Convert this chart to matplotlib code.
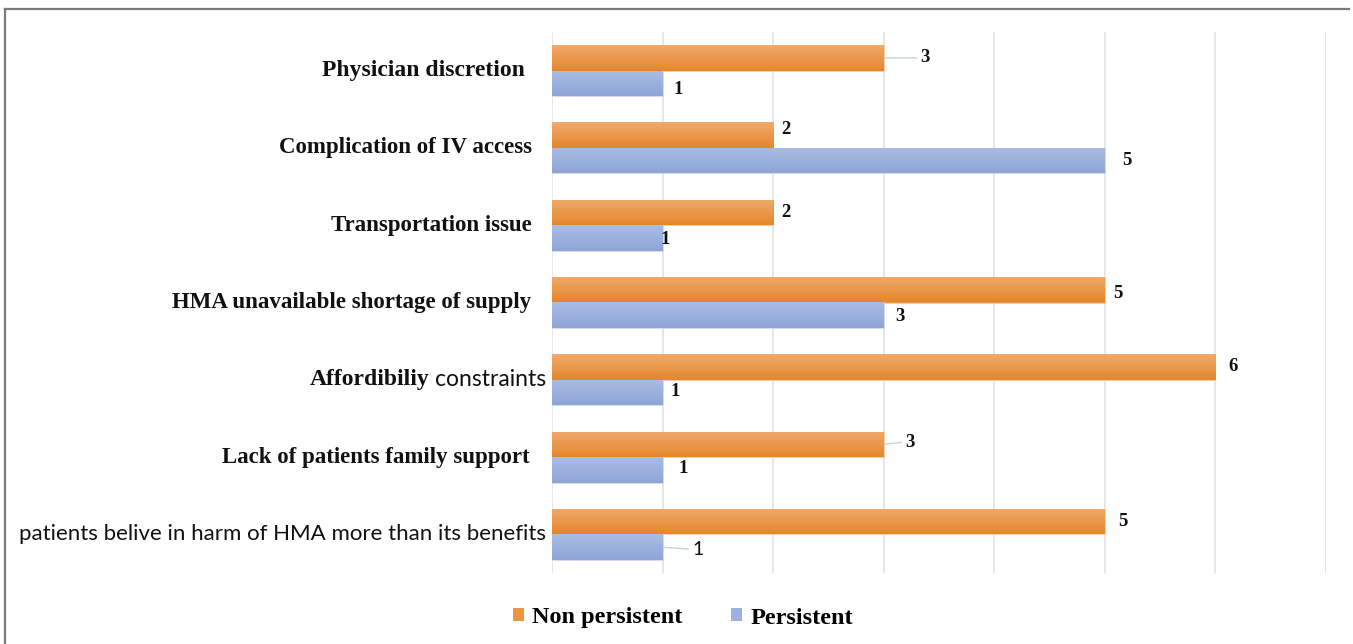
import matplotlib
matplotlib.use("Agg")
import matplotlib.pyplot as plt
import numpy as np
from matplotlib.colors import LinearSegmentedColormap
from matplotlib.lines import Line2D
from matplotlib.patches import Patch

# ---------------- data ----------------
categories = [
    "Physician discretion",
    "Complication of IV access",
    "Transportation issue",
    "HMA unavailable shortage of supply",
    "Affordibiliy constraints",
    "Lack of patients family support",
    "patients belive in harm of HMA more than its benefits",
]
non_persistent = [3, 2, 2, 5, 6, 3, 5]
persistent = [1, 5, 1, 3, 1, 1, 1]
series_names = ["Non persistent", "Persistent"]

# ---------------- style / layout ----------------
W, H = 1353, 644
fig = plt.figure(figsize=(W / 100, H / 100), dpi=100)
ax = fig.add_axes([552 / W, 1 - 573 / H, (1326 - 552) / W, (573 - 32) / H])

SERIF = "Liberation Serif"
SANS = "Lato"
orange_grad = LinearSegmentedColormap.from_list("o", ["#F0AA6C", "#E4872B"])
blue_grad = LinearSegmentedColormap.from_list("b", ["#AABDE4", "#8DA4D6"])

n = len(categories)
y = np.arange(n)
bh = 0.33

ax.set_xlim(0, 7)
ax.set_ylim(n - 0.5, -0.5)

bars_o = ax.barh(y - bh / 2, non_persistent, height=bh, color="#EC973F",
                 edgecolor="#F6D3B0", linewidth=0.6, zorder=2)
bars_b = ax.barh(y + bh / 2, persistent, height=bh, color="#9CB1DD",
                 edgecolor="#D6DEF1", linewidth=0.6, zorder=2)

grad = np.linspace(0, 1, 64).reshape(-1, 1)
for bars, cmap in ((bars_o, orange_grad), (bars_b, blue_grad)):
    for p in bars:
        x0, y0 = p.get_x(), p.get_y()
        w, h = p.get_width(), p.get_height()
        im = ax.imshow(grad, cmap=cmap, aspect="auto",
                       extent=(x0, x0 + w, y0 + h, y0), origin="upper",
                       zorder=2.5, interpolation="bilinear")
        im.set_clip_path(p)
ax.set_xlim(0, 7)
ax.set_ylim(n - 0.5, -0.5)

# grid
ax.set_xticks(range(0, 8))
ax.xaxis.grid(True, color="#E3E3E3", linewidth=1.2, zorder=0)
ax.set_axisbelow(True)
ax.tick_params(axis="both", length=0, labelbottom=False, labelleft=False)
for s in ax.spines.values():
    s.set_visible(False)

# category labels (drawn manually to mix fonts)
label_right_px = [525, 532, 532, 531, 546, 530, 546]
label_size = [17, 16.5, 16.5, 16.5, 17, 16.5, 16]
fig.canvas.draw()
renderer = fig.canvas.get_renderer()
trans = ax.get_yaxis_transform()
for i, cat in enumerate(categories):
    xr = (label_right_px[i] - 552) / (1326 - 552)
    if cat.startswith("patients"):
        ax.text(xr, y[i], cat, ha="right", va="center", transform=trans,
                fontsize=label_size[i], family=SANS, color="#111111",
                clip_on=False)
    elif cat.startswith("Affordibiliy"):
        first, second = cat.split(" ", 1)
        t2 = ax.text(xr, y[i], second, ha="right", va="center", transform=trans,
                     fontsize=16.5, family=SANS, color="#111111", clip_on=False)
        bb = t2.get_window_extent(renderer)
        x_left_px = bb.x0 - 5
        xl = (x_left_px - ax.bbox.x0) / ax.bbox.width
        ax.text(xl, y[i], first, ha="right", va="center", transform=trans,
                fontsize=label_size[i], family=SERIF, fontweight="bold",
                color="#111111", clip_on=False)
    else:
        ax.text(xr, y[i], cat, ha="right", va="center", transform=trans,
                fontsize=label_size[i], family=SERIF, fontweight="bold",
                color="#111111", clip_on=False)

# data labels: (dx, dy) offsets in pixels from bar end / bar centre
o_off = [(37, 0), (8, -6), (8, 0), (8, 4), (13, -1), (22, -2), (13, 0)]
b_off = [(11, 6), (17, 0), (-2, 2), (12, 1), (8, -1), (16, -1), (30, 2)]
o_leader = [True, False, False, False, False, True, False]
b_leader = [False, False, False, False, False, False, True]

def add_labels(bars, vals, offs, leaders, sans_last=False):
    for j, (p, v) in enumerate(zip(bars, vals)):
        xe = p.get_x() + p.get_width()
        yc = p.get_y() + p.get_height() / 2
        dx, dy = offs[j]
        fam, fw, fs = SERIF, "bold", 13.5
        if sans_last and j == len(vals) - 1:
            fam, fw, fs = SANS, "normal", 14
        ax.annotate(str(v), xy=(xe, yc), xytext=(dx, -dy),
                    textcoords="offset pixels", ha="left", va="center",
                    fontsize=fs, family=fam, fontweight=fw, color="#111111",
                    zorder=5, annotation_clip=False)
        if leaders[j]:
            ax.annotate("", xy=(xe, yc), xytext=(dx - 4, -dy),
                        textcoords="offset pixels",
                        arrowprops=dict(arrowstyle="-", color="#C9D2E6",
                                        lw=1.0, shrinkA=0, shrinkB=1),
                        zorder=4, annotation_clip=False)

add_labels(bars_o, non_persistent, o_off, o_leader)
add_labels(bars_b, persistent, b_off, b_leader, sans_last=True)

# legend
handles = [Patch(facecolor="#EC973F", edgecolor="none"),
           Patch(facecolor="#9CB1DD", edgecolor="none")]
leg = fig.legend(handles, series_names, loc="center", ncol=2,
                 bbox_to_anchor=(683 / W, 1 - 618 / H), frameon=False,
                 prop=dict(family=SERIF, weight="bold", size=17.5),
                 handlelength=0.45, handleheight=0.45, handletextpad=0.35,
                 columnspacing=2.0)

# outer frame (top and left lines of the cropped chart box)
fig.add_artist(Line2D([5 / W, 1349 / W], [1 - 9 / H, 1 - 9 / H],
                      color="#7A7A7A", lw=1.6, transform=fig.transFigure))
fig.add_artist(Line2D([5 / W, 5 / W], [1 - 9 / H, 0],
                      color="#7A7A7A", lw=1.6, transform=fig.transFigure))

fig.savefig("out.png", dpi=100, facecolor="white")
